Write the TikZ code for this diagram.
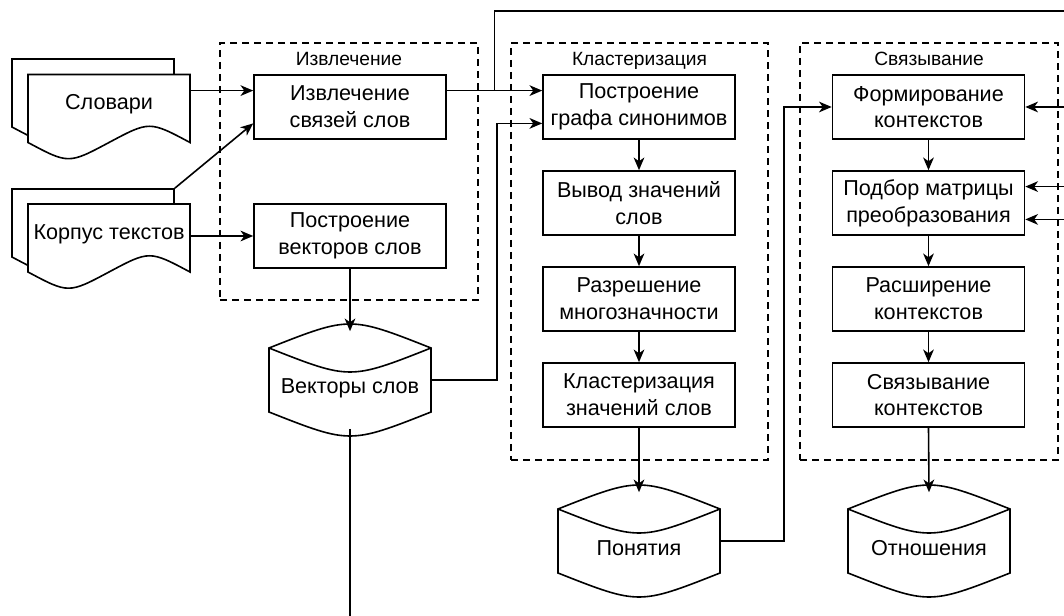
\documentclass[tikz,border=0pt]{standalone}
\usepackage{fontspec}
\setmainfont{Liberation Sans}
\usetikzlibrary{arrows.meta,calc}

\begin{document}
\begin{tikzpicture}[x=0.75pt,y=-0.75pt,line width=1.2pt,
  proc/.style={draw,fill=white,minimum width=144pt,minimum height=48pt,inner sep=0pt,
    align=center,font=\fontsize{16.2}{20}\selectfont},
  grp/.style={draw,dash pattern=on 5.25pt off 3.75pt,inner sep=0pt},
  grplabel/.style={anchor=base,inner sep=0pt,font=\fontsize{14.4}{17}\selectfont},
  txt/.style={anchor=base,inner sep=0pt,font=\fontsize{16.2}{20}\selectfont},
  sheetbox/.style={draw=none,inner sep=0pt,minimum width=121.5pt,minimum height=60pt},
  drumbox/.style={draw=none,inner sep=0pt,minimum width=121.5pt,minimum height=72pt},
  conn/.style={-{Stealth[length=9.5pt,width=8pt,inset=2.8pt]}},
  docsheet/.pic={
    \draw[fill=white] (0,0) -- (162,0) -- (162,68)
      .. controls (121.5,46.4) .. (81,68)
      .. controls (40.5,89.6) .. (0,68) -- cycle;
  },
  drum/.pic={
    \draw[fill=white] (0,16) .. controls (81,-16) .. (162,16) -- (162,80)
      .. controls (81,112) .. (0,80) -- cycle;
    \draw (0,16) .. controls (81,48) .. (162,16);
  }
]
\useasboundingbox (0,0) rectangle (1064,616);
\clip (0,0) rectangle (1064,616);

% dashed stage frames
\node[grp,minimum width=193.5pt,minimum height=192.75pt] (g1) at (349,171.5) {};
\node[grp,minimum width=192.75pt,minimum height=312.75pt] (g2) at (639.5,251.5) {};
\node[grp,minimum width=193.5pt,minimum height=312.75pt] (g3) at (929,251.5) {};
\node[grplabel] (g1t) at (349,66) {Извлечение};
\node[grplabel] (g2t) at (639.5,66) {Кластеризация};
\node[grplabel] (g3t) at (929,66) {Связывание};

% input documents
\pic at (12,59) {docsheet};
\pic at (28,74.5) {docsheet};
\pic at (12,189) {docsheet};
\pic at (28,204) {docsheet};
\node[sheetbox] (slov) at (109,114.5) {};
\node[sheetbox] (korpb) at (93,229) {};
\node[sheetbox] (korp) at (109,244) {};
\node[txt] (slovt) at (109,110) {Словари};
\node[txt] (korpt) at (109,240) {Корпус текстов};

% process steps
\node[proc] (b1) at (350,107) {Извлечение\\связей слов};
\node[proc] (b2) at (350,236) {Построение\\векторов слов};
\node[proc] (c1) at (639,107) {Построение\\графа синонимов};
\node[proc] (c2) at (639,203) {Вывод значений\\слов};
\node[proc] (c3) at (639,299) {Разрешение\\многозначности};
\node[proc] (c4) at (639,395) {Кластеризация\\значений слов};
\node[proc] (d1) at (928.5,107) {Формирование\\контекстов};
\node[proc] (d2) at (928.5,203) {Подбор матрицы\\преобразования};
\node[proc] (d3) at (928.5,299) {Расширение\\контекстов};
\node[proc] (d4) at (928.5,395) {Связывание\\контекстов};

% data stores
\pic at (269,332) {drum};
\pic at (558,493) {drum};
\pic at (848,493) {drum};
\node[drumbox] (vec) at (350,380) {};
\node[drumbox] (pon) at (639,541) {};
\node[drumbox] (rel) at (929,541) {};
\node[txt] (vect) at (350,394) {Векторы слов};
\node[txt] (pont) at (639,555) {Понятия};
\node[txt] (relt) at (929,555) {Отношения};

% ports
\coordinate (b1a) at ($(b1.north west)!0.25!(b1.south west)$);
\coordinate (b1b) at ($(b1.north west)!0.75!(b1.south west)$);
\coordinate (b1r) at ($(b1.north east)!0.25!(b1.south east)$);
\coordinate (c1a) at ($(c1.north west)!0.25!(c1.south west)$);
\coordinate (c1b) at ($(c1.north west)!0.75!(c1.south west)$);
\coordinate (d2a) at ($(d2.north east)!0.25!(d2.south east)$);
\coordinate (d2b) at ($(d2.north east)!0.75!(d2.south east)$);
\coordinate (tj) at ($(b1r)!0.5!(c1a)$);
\coordinate (outR) at (1080,11);

% connectors
\draw[conn] (slov.east |- b1a) -- (b1a);
\draw[conn] (korpb.north east) -- (b1b);
\draw[conn] (korp.east |- b2.west) -- (b2.west);
\draw[conn] (b1r) -- (c1a);
\draw[conn] (tj) |- (outR) |- (d1.east);
\draw[conn] (b2.south) -- (vec.north);
\draw[conn] (vec.east) -- ++(65,0) |- (c1b);
\draw (vec.south) -- ++(0,240);
\draw[conn] (c1.south) -- (c2.north);
\draw[conn] (c2.south) -- (c3.north);
\draw[conn] (c3.south) -- (c4.north);
\draw[conn] (c4.south) -- (pon.north);
\draw[conn] (pon.east) -- ++(63,0) |- (d1.west);
\draw[conn] (d1.south) -- (d2.north);
\draw[conn] (d2.south) -- (d3.north);
\draw[conn] (d3.south) -- (d4.north);
\draw[conn] (d4.south) -- (rel.north);
\draw[conn] ($(d2a)+(60,0)$) -- (d2a);
\draw[conn] ($(d2b)+(60,0)$) -- (d2b);
\end{tikzpicture}
\end{document}
